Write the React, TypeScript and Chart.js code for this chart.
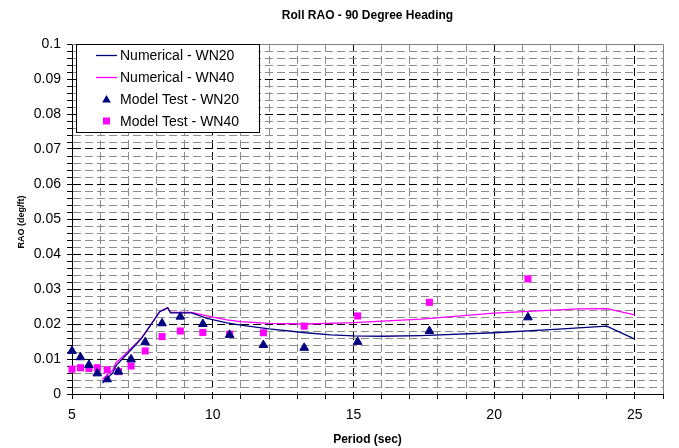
import React, { useEffect, useRef } from "react";
import { Chart, registerables } from "chart.js";

Chart.register(...registerables);

const TITLE = "Roll RAO - 90 Degree Heading";
const X_TITLE = "Period (sec)";
const Y_TITLE = "RAO (deg/ft)";
const SERIES_NAMES = ["Numerical - WN20", "Numerical - WN40", "Model Test - WN20", "Model Test - WN40"];

// Numerical curves
const numPeriod20 = [6.08, 6.45, 6.55, 7.0, 7.47, 8.12, 8.4, 8.5, 9.25, 9.8, 10.5, 11.0, 12.0, 13.3, 14.2, 15.0, 16.0, 17.4, 20.0, 22.0, 24.0, 25.0];
const numRao20 = [0.0031, 0.006, 0.008, 0.0118, 0.0159, 0.0235, 0.0246, 0.0232, 0.0232, 0.0216, 0.0203, 0.0197, 0.0186, 0.0175, 0.0169, 0.0166, 0.0165, 0.0167, 0.0175, 0.0184, 0.0194, 0.0157];

const numPeriod40 = [6.08, 6.45, 6.55, 7.0, 7.47, 8.12, 8.4, 8.5, 9.25, 9.8, 10.5, 11.0, 12.0, 13.3, 15.0, 17.4, 20.0, 23.0, 24.0, 25.0];
const numRao40 = [0.0042, 0.0068, 0.0088, 0.0122, 0.016, 0.0236, 0.0247, 0.0233, 0.0233, 0.0223, 0.0212, 0.0207, 0.0202, 0.02, 0.0204, 0.0214, 0.0231, 0.0243, 0.0244, 0.0226];

// Model tests
const testPeriod = [5.0, 5.3, 5.6, 5.9, 6.25, 6.65, 7.1, 7.6, 8.2, 8.85, 9.65, 10.6, 11.8, 13.25, 15.15, 17.7, 21.2];
const testRao20 = [0.0123, 0.0105, 0.0083, 0.0059, 0.0042, 0.0064, 0.0099, 0.0148, 0.0202, 0.0221, 0.02, 0.0169, 0.014, 0.0132, 0.0149, 0.018, 0.0219];
const testRao40 = [0.0071, 0.0075, 0.0073, 0.0075, 0.0069, 0.0064, 0.008, 0.0123, 0.0164, 0.018, 0.0176, 0.0171, 0.0175, 0.0194, 0.0223, 0.0262, 0.0329];

const X_MIN = 5, X_MAX = 26, X_STEP = 1, X_MAJOR = 5;
const Y_MIN = 0, Y_MAX = 0.1, Y_STEP = 0.002, Y_MAJOR = 0.01;

const NAVY = "#000080";
const MAGENTA = "#FF00FF";
const FONT = '"Liberation Sans", Arial, sans-serif';

const pts = (xs: number[], ys: number[]) => xs.map((x, i) => ({ x, y: ys[i] }));
const isMult = (v: number, m: number) => Math.abs(v / m - Math.round(v / m)) < 1e-6;

function drawTri(ctx: CanvasRenderingContext2D, x: number, y: number, r: number) {
  ctx.beginPath();
  for (let k = 0; k < 3; k++) {
    const a = (k * 2 * Math.PI) / 3;
    const px = x + Math.sin(a) * r;
    const py = y - Math.cos(a) * r;
    if (k === 0) ctx.moveTo(px, py); else ctx.lineTo(px, py);
  }
  ctx.closePath();
  ctx.fill();
}

const overlay = {
  id: "overlay",
  afterDraw(chart: any) {
    const ctx: CanvasRenderingContext2D = chart.ctx;
    const { left, right, top, bottom } = chart.chartArea;
    ctx.save();
    ctx.setLineDash([]);
    ctx.strokeStyle = "#808080";
    ctx.lineWidth = 1;
    ctx.beginPath();
    ctx.moveTo(Math.round(left), Math.round(top) + 0.5);
    ctx.lineTo(Math.round(right) + 0.5, Math.round(top) + 0.5);
    ctx.lineTo(Math.round(right) + 0.5, Math.round(bottom));
    ctx.stroke();

    ctx.fillStyle = "#000";
    ctx.textAlign = "center";
    ctx.textBaseline = "middle";
    ctx.font = `bold 12px ${FONT}`;
    ctx.fillText(TITLE, (left + right) / 2, 16);
    ctx.fillText(X_TITLE, (left + right) / 2, 440);
    ctx.save();
    ctx.translate(22, 222);
    ctx.rotate(-Math.PI / 2);
    ctx.font = `bold 9px ${FONT}`;
    ctx.fillText(Y_TITLE, 0, 0);
    ctx.restore();

    // legend
    const lx = 76, ly = 44, lw = 183, lh = 88;
    ctx.fillStyle = "#fff";
    ctx.fillRect(lx, ly, lw, lh);
    ctx.strokeStyle = "#000";
    ctx.strokeRect(lx + 0.5, ly + 0.5, lw, lh);
    const rows = [55, 77, 99, 121];
    ctx.font = `14px ${FONT}`;
    ctx.textAlign = "left";
    rows.forEach((ry, i) => {
      if (i < 2) {
        ctx.strokeStyle = i === 0 ? NAVY : MAGENTA;
        ctx.lineWidth = 1.3;
        ctx.beginPath();
        ctx.moveTo(96, ry + 0.5);
        ctx.lineTo(117, ry + 0.5);
        ctx.stroke();
      } else if (i === 2) {
        ctx.fillStyle = NAVY;
        drawTri(ctx, 106.5, ry + 1, 5);
      } else {
        ctx.fillStyle = MAGENTA;
        ctx.fillRect(103, ry - 3.5, 7, 7);
      }
      ctx.fillStyle = "#000";
      ctx.fillText(SERIES_NAMES[i], 120, ry + 1);
    });
    ctx.restore();
  },
};

export default function App() {
  const ref = useRef<HTMLCanvasElement | null>(null);
  useEffect(() => {
    if (!ref.current) return;
    Chart.defaults.font.family = FONT;
    const gridColor = (majorStep: number, edges: number[]) => (c: any) => {
      const v = c.tick ? c.tick.value : null;
      if (v === null) return "#000";
      if (edges.some((e) => Math.abs(e - v) < 1e-9)) return "rgba(0,0,0,0)";
      return isMult(v, majorStep) ? "#000" : "#8c8c8c";
    };
    const chart = new Chart(ref.current, {
      type: "scatter",
      data: {
        datasets: [
          {
            label: SERIES_NAMES[0],
            data: pts(numPeriod20, numRao20),
            showLine: true,
            borderColor: NAVY,
            backgroundColor: NAVY,
            borderWidth: 1.3,
            pointRadius: 0,
            tension: 0,
            clip: false as any,
          },
          {
            label: SERIES_NAMES[1],
            data: pts(numPeriod40, numRao40),
            showLine: true,
            borderColor: MAGENTA,
            backgroundColor: MAGENTA,
            borderWidth: 1.3,
            pointRadius: 0,
            tension: 0,
            clip: false as any,
          },
          {
            label: SERIES_NAMES[2],
            data: pts(testPeriod, testRao20),
            showLine: false,
            pointStyle: "triangle",
            pointRadius: 5,
            borderWidth: 1,
            borderColor: NAVY,
            backgroundColor: NAVY,
            clip: false as any,
          },
          {
            label: SERIES_NAMES[3],
            data: pts(testPeriod, testRao40),
            showLine: false,
            pointStyle: "rect",
            pointRadius: 5,
            borderWidth: 0,
            borderColor: MAGENTA,
            backgroundColor: MAGENTA,
            clip: false as any,
          },
        ],
      },
      options: {
        responsive: false,
        animation: false,
        layout: { padding: { top: 44, right: 16, left: 0, bottom: 0 } },
        plugins: {
          legend: { display: false },
          title: { display: false },
          tooltip: { enabled: false },
        },
        scales: {
          x: {
            type: "linear",
            min: X_MIN,
            max: X_MAX,
            afterFit: (s: any) => { s.height = 54; },
            ticks: {
              stepSize: X_STEP,
              autoSkip: false,
              maxRotation: 0,
              padding: 8,
              color: "#000",
              font: { size: 14, family: FONT },
              callback: (v: any) => (isMult(Number(v), X_MAJOR) ? String(Math.round(Number(v))) : ""),
            },
            grid: {
              color: gridColor(X_MAJOR, [X_MIN, X_MAX]),
              tickColor: "#000",
              tickLength: 5,
              tickBorderDash: [],
              lineWidth: 1,
            },
            border: { display: true, color: "#000", width: 1, dash: [8, 4] },
          },
          y: {
            type: "linear",
            min: Y_MIN,
            max: Y_MAX,
            afterFit: (s: any) => { s.width = 72; },
            ticks: {
              stepSize: Y_STEP,
              autoSkip: false,
              padding: 6,
              color: "#000",
              font: { size: 14, family: FONT },
              callback: (v: any) => {
                const n = Number(v);
                return isMult(n, Y_MAJOR) ? String(Math.round(n * 100) / 100) : "";
              },
            },
            grid: {
              color: gridColor(Y_MAJOR, [Y_MIN, Y_MAX]),
              tickColor: "#000",
              tickLength: 5,
              tickBorderDash: [],
              lineWidth: 1,
            },
            border: { display: true, color: "#000", width: 1, dash: [8, 4] },
          },
        },
      },
      plugins: [overlay],
    } as any);
    return () => chart.destroy();
  }, []);
  return (
    <div style={{ position: "fixed", left: 0, top: 0, width: 679, height: 448, background: "#fff" }}>
      <canvas ref={ref} width={679} height={448} style={{ display: "block", width: 679, height: 448 }} />
    </div>
  );
}
